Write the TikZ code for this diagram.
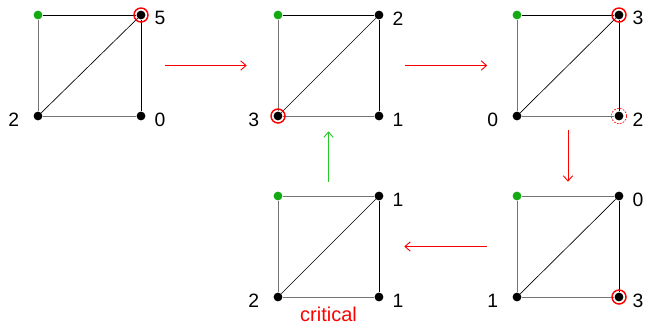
\documentclass[tikz,border=0pt]{standalone}
\usepackage{fontspec}
\setmainfont{Liberation Sans}
\usetikzlibrary{arrows.meta,positioning}

\definecolor{startgreen}{RGB}{20,170,20}
\definecolor{flowgreen}{RGB}{40,200,40}

\tikzset{
  box/.style={minimum width=75.75pt, minimum height=75.75pt, inner sep=0pt},
  dot/.style={circle, fill=black, inner sep=0pt, minimum size=6.6pt},
  start/.style={circle, fill=startgreen, inner sep=0pt, minimum size=6.6pt},
  ring/.style={circle, draw=red, line width=1.1pt, inner sep=0pt, minimum size=10.5pt},
  ghost/.style={circle, draw=red, dashed, dash pattern=on 1.3pt off 1pt, line width=0.5pt, inner sep=0pt, minimum size=11.5pt},
  side/.style={draw=black!55, line width=0.75pt},
  edge/.style={draw=black, line width=0.75pt},
  diag/.style={draw=black, line width=0.5pt},
  lbl/.style={inner sep=0pt, font=\fontsize{14.5pt}{16pt}\selectfont},
  flow/.style={-{Straight Barb[length=4pt, width=7pt]}, line width=0.7pt},
}

% one square: name, left x, top y, right x, bottom y, style of top edge
\newcommand{\pane}[6]{%
  \node[box] (#1) at ({(#2+#4)/2},{(#3+#5)/2}) {};
  \node[start] (#1tl) at (#2,#3) {};
  \node[dot] (#1tr) at (#4,#3) {};
  \node[dot] (#1bl) at (#2,#5) {};
  \node[dot] (#1br) at (#4,#5) {};
  \draw[side] (#1tl) -- (#1bl) -- (#1br);
  \draw[edge] (#1br) -- (#1tr);
  \draw[#6] (#1tr) -- (#1tl);
  \draw[diag] (#1bl) -- (#1tr);
}

\begin{document}
\begin{tikzpicture}[x=0.75pt, y=-0.75pt]
  \useasboundingbox (0,0) rectangle (646,326);

  \pane{s1}{38}{15}{141}{116}{edge}
  \pane{s2}{278}{15}{379}{116}{edge}
  \pane{s3}{517}{15}{619}{116}{edge}
  \pane{s4}{278}{196}{379}{297}{side}
  \pane{s5}{517}{196}{619}{297}{side}

  % marked vertices
  \node[ring] (m1) at (s1tr) {};
  \node[ring] (m2) at (s2bl) {};
  \node[ring] (m3) at (s3tr) {};
  \node[ghost] (m3b) at (s3br) {};
  \node[ring] (m5) at (s5br) {};

  % values
  \node[lbl, right=6.5pt of s1tr, yshift=-2pt] (v1tr) {5};
  \node[lbl, right=6.5pt of s1br, yshift=-3pt] (v1br) {0};
  \node[lbl, left=10.5pt of s1bl, yshift=-3pt] (v1bl) {2};

  \node[lbl, right=6.5pt of s2tr, yshift=-3pt] (v2tr) {2};
  \node[lbl, right=6.5pt of s2br, yshift=-3pt] (v2br) {1};
  \node[lbl, left=10.5pt of s2bl, yshift=-3pt] (v2bl) {3};

  \node[lbl, right=6.5pt of s3tr, yshift=-2pt] (v3tr) {3};
  \node[lbl, right=6.5pt of s3br, yshift=-3pt] (v3br) {2};
  \node[lbl, left=10.5pt of s3bl, yshift=-3pt] (v3bl) {0};

  \node[lbl, right=6.5pt of s4tr, yshift=-3pt] (v4tr) {1};
  \node[lbl, right=6.5pt of s4br, yshift=-3pt] (v4br) {1};
  \node[lbl, left=10.5pt of s4bl, yshift=-3pt] (v4bl) {2};

  \node[lbl, right=6.5pt of s5tr, yshift=-3pt] (v5tr) {0};
  \node[lbl, right=6.5pt of s5br, yshift=-3pt] (v5br) {3};
  \node[lbl, left=10.5pt of s5bl, yshift=-3pt] (v5bl) {1};

  \node[lbl, text=red, font=\fontsize{15pt}{17pt}\selectfont, below=7pt of s4] (crit) {critical};

  % moves
  \draw[flow, red, shorten <=18.75pt, shorten >=23.25pt] (s1) -- (s2);
  \draw[flow, red, shorten <=19.5pt, shorten >=22.5pt] (s2) -- (s3);
  \draw[flow, red, shorten <=10.5pt, shorten >=10.5pt] (s3) -- (s5);
  \draw[flow, red, shorten <=22.5pt, shorten >=18.75pt] (s5) -- (s4);
  \draw[flow, flowgreen, shorten <=10.5pt, shorten >=11.25pt] (s4) -- (s2);
\end{tikzpicture}
\end{document}
